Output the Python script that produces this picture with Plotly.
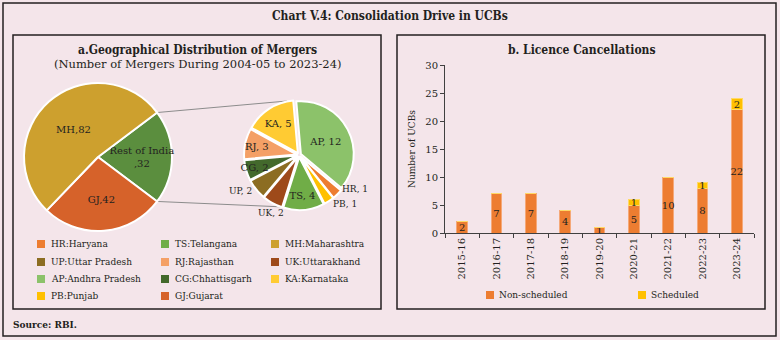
import math
import plotly.graph_objects as go

# ---- data ----------------------------------------------------------------
main_labels = ["Rest of India", "GJ", "MH"]
main_values = [32, 42, 82]
main_text = ["Rest of India<br>,32", "GJ,42", "MH,82"]

state_labels = ["AP", "HR", "PB", "TS", "UK", "UP", "CG", "RJ", "KA"]
state_values = [12, 1, 1, 4, 2, 2, 2, 3, 5]

years = ["2015-16", "2016-17", "2017-18", "2018-19", "2019-20",
         "2020-21", "2021-22", "2022-23", "2023-24"]
non_scheduled = [2, 7, 7, 4, 1, 5, 10, 8, 22]
scheduled = [0, 0, 0, 0, 0, 1, 0, 1, 2]

legend_items = [
    ("HR:Haryana", "HR"), ("TS:Telangana", "TS"), ("MH:Maharashtra", "MH"),
    ("UP:Uttar Pradesh", "UP"), ("RJ:Rajasthan", "RJ"), ("UK:Uttarakhand", "UK"),
    ("AP:Andhra Pradesh", "AP"), ("CG:Chhattisgarh", "CG"), ("KA:Karnataka", "KA"),
    ("PB:Punjab", "PB"), ("GJ:Gujarat", "GJ"),
]

# ---- styling -------------------------------------------------------------
W, H = 780, 340
BG = "#F4E5EA"
FONT = "DejaVu Serif"
FONT_C = "DejaVu Serif Condensed, DejaVu Serif"
TXT = "#231F20"
colors = {
    "HR": "#ED7D31", "TS": "#70AD47", "MH": "#CDA02E", "UP": "#8C6D22",
    "RJ": "#F4A066", "UK": "#9E4A1A", "AP": "#8CC26A", "CG": "#43692C",
    "KA": "#FFCB33", "PB": "#FFC000", "GJ": "#D6622A", "Rest of India": "#5B8E3E",
}
ORANGE = "#ED7D31"
YELLOW = "#FFC000"


def px(x):
    return x / W


def py(y):
    return 1 - y / H


def label(text, x, y, size=9, family=FONT, xanchor="center", yanchor="middle"):
    return dict(text=text, x=px(x), y=py(y), xref="paper", yref="paper",
                xanchor=xanchor, yanchor=yanchor, showarrow=False,
                font=dict(family=family, size=size, color=TXT))


fig = go.Figure()
annotations = []
shapes = []

# main pie
big_cx, big_cy, big_r = 98, 157, 74
rest_angle = 360 * main_values[0] / sum(main_values)
big_rot = 90 - rest_angle / 2
fig.add_trace(go.Pie(
    labels=main_labels, values=main_values, text=main_text,
    textinfo="text", textposition="inside", insidetextorientation="horizontal",
    sort=False, direction="clockwise", rotation=big_rot,
    marker=dict(colors=[colors[k] for k in main_labels],
                line=dict(color="white", width=2)),
    textfont=dict(family=FONT, size=9, color=TXT),
    domain=dict(x=[px(big_cx - big_r), px(big_cx + big_r)],
                y=[py(big_cy + big_r), py(big_cy - big_r)]),
    showlegend=False, hoverinfo="label+value",
))

# breakdown pie for Rest of India; the thin slices get their labels outside
sm_cx, sm_cy, sm_r = 299, 155, 55
sm_rot = -5
outside = {"HR", "PB", "UK", "UP"}
state_text = [f"{l}, {v}" for l, v in zip(state_labels, state_values)]
fig.add_trace(go.Pie(
    labels=state_labels, values=state_values,
    text=["" if l in outside else t for l, t in zip(state_labels, state_text)],
    textinfo="text", textposition="inside",
    insidetextorientation="horizontal",
    sort=False, direction="clockwise", rotation=sm_rot,
    pull=0.04,
    marker=dict(colors=[colors[k] for k in state_labels],
                line=dict(color="white", width=2)),
    textfont=dict(family=FONT, size=9, color=TXT),
    domain=dict(x=[px(sm_cx - sm_r), px(sm_cx + sm_r)],
                y=[py(sm_cy + sm_r), py(sm_cy - sm_r)]),
    showlegend=False, hoverinfo="label+value",
))

total = sum(state_values)
start = sm_rot
for lab, val, txt in zip(state_labels, state_values, state_text):
    span = 360 * val / total
    mid = math.radians(start + span / 2)
    start += span
    if lab not in outside:
        continue
    s, c = math.sin(mid), -math.cos(mid)
    r = 58
    xa = "left" if s > 0.3 else ("right" if s < -0.6 else "center")
    if c > 0.85:
        ya = "top"
    elif s > 0.3 and c < 0.75:
        ya = "bottom"
    else:
        ya = "middle"
    annotations.append(label(txt, sm_cx + r * s, sm_cy + r * c, size=9,
                             xanchor=xa, yanchor=ya))

# stacked bars
fig.add_trace(go.Bar(
    x=years, y=non_scheduled, name="Non-scheduled",
    marker=dict(color=ORANGE, line=dict(color="#F5A878", width=1)),
    text=[str(v) if v else "" for v in non_scheduled],
    textposition="inside", insidetextanchor="middle", textangle=0,
    textfont=dict(family=FONT, size=10, color=TXT),
    xaxis="x", yaxis="y", showlegend=False,
))
fig.add_trace(go.Bar(
    x=years, y=scheduled, name="Scheduled",
    marker=dict(color=YELLOW, line=dict(color="#FFD966", width=1)),
    text=[str(v) if v else "" for v in scheduled],
    textposition="inside", insidetextanchor="middle", textangle=0,
    textfont=dict(family=FONT, size=10, color=TXT),
    xaxis="x", yaxis="y", showlegend=False,
))

# frames
frame = dict(color="#231F20", width=1.5)
for x0, x1, y0, y1 in ((3, 776, 3, 336), (13, 381, 35, 309), (397, 765, 35, 309)):
    shapes.append(dict(type="rect", xref="paper", yref="paper",
                       x0=px(x0), x1=px(x1), y0=py(y1), y1=py(y0), line=frame))

# connector lines from the Rest of India slice to the breakdown pie
for ang, target in ((big_rot, (sm_cx - 12, sm_cy - sm_r + 1)),
                    (big_rot + rest_angle, (sm_cx - 14, sm_cy + sm_r - 3))):
    a = math.radians(ang)
    x0 = big_cx + big_r * math.sin(a)
    y0 = big_cy - big_r * math.cos(a)
    shapes.append(dict(type="line", xref="paper", yref="paper",
                       x0=px(x0), y0=py(y0), x1=px(target[0]), y1=py(target[1]),
                       line=dict(color="#8C8C8C", width=1), layer="below"))

# titles
annotations.append(label("<b>Chart V.4: Consolidation Drive in UCBs</b>", 390, 16,
                         size=12, family=FONT_C))
annotations.append(label("<b>a.Geographical Distribution of Mergers</b>", 197, 50,
                         size=12, family=FONT_C))
annotations.append(label("(Number of Mergers During 2004-05 to 2023-24)", 197, 64,
                         size=11.5))
annotations.append(label("<b>b. Licence Cancellations</b>", 582, 50,
                         size=12, family=FONT_C))
annotations.append(label("<b>Source: RBI.</b>", 11, 325, size=9, xanchor="left"))

# state legend (3 columns)
col_x = [37, 161, 271]
row_y = [244, 262, 279, 296]
for i, (name, key) in enumerate(legend_items):
    cx, cy = col_x[i % 3], row_y[i // 3]
    shapes.append(dict(type="rect", xref="paper", yref="paper",
                       x0=px(cx), x1=px(cx + 8), y0=py(cy + 4), y1=py(cy - 4),
                       fillcolor=colors[key], line=dict(width=0)))
    annotations.append(label(name, cx + 12, cy, size=9, xanchor="left"))

# bar legend
for name, col, lx in (("Non-scheduled", ORANGE, 486), ("Scheduled", YELLOW, 638)):
    shapes.append(dict(type="rect", xref="paper", yref="paper",
                       x0=px(lx), x1=px(lx + 8), y0=py(299), y1=py(291),
                       fillcolor=col, line=dict(width=0)))
    annotations.append(label(name, lx + 11, 295, size=9, xanchor="left"))

fig.update_layout(
    width=W, height=H, margin=dict(l=0, r=0, t=0, b=0),
    paper_bgcolor=BG, plot_bgcolor=BG,
    barmode="stack", bargap=0.68,
    font=dict(family=FONT, size=10, color=TXT),
    uniformtext=dict(minsize=10, mode="show"),
    xaxis=dict(domain=[px(445), px(754)], type="category", automargin=False,
               tickangle=-90, showline=True, linecolor="#404040",
               ticks="outside", tickson="boundaries", ticklen=4,
               tickcolor="#404040", showgrid=False, zeroline=False,
               tickfont=dict(family=FONT, size=10, color=TXT)),
    yaxis=dict(domain=[py(233), py(65)], range=[0, 30], dtick=5, automargin=False,
               showline=True, linecolor="#404040", ticks="outside",
               ticklen=4, tickcolor="#404040", showgrid=False, zeroline=False,
               title=dict(text="Number of UCBs", standoff=8,
                          font=dict(family=FONT, size=9, color=TXT)),
               tickfont=dict(family=FONT, size=10, color=TXT)),
    shapes=shapes, annotations=annotations,
)

fig.write_html("out.html")
